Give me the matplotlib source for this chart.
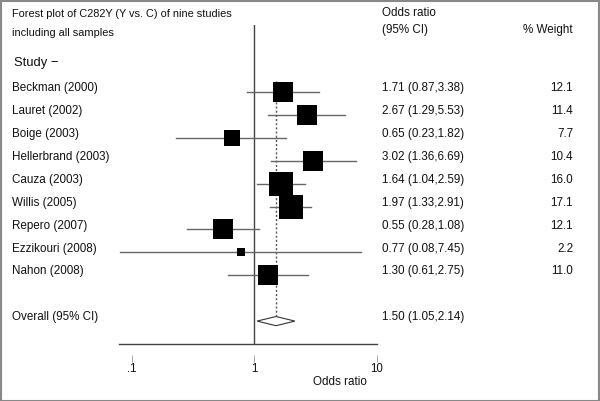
import numpy as np
import matplotlib
matplotlib.use("Agg")
import matplotlib.pyplot as plt
import matplotlib.transforms as mtransforms
from matplotlib.patches import Polygon, Rectangle

plt.rcParams['font.family'] = ['Liberation Sans', 'DejaVu Sans']

# данные
studies = ["Beckman (2000)", "Lauret (2002)", "Boige (2003)", "Hellerbrand (2003)",
           "Cauza (2003)", "Willis (2005)", "Repero (2007)", "Ezzikouri (2008)",
           "Nahon (2008)"]
odds = [1.71, 2.67, 0.65, 3.02, 1.64, 1.97, 0.55, 0.77, 1.30]
ci_low = [0.87, 1.29, 0.23, 1.36, 1.04, 1.33, 0.28, 0.08, 0.61]
ci_high = [3.38, 5.53, 1.82, 6.69, 2.59, 2.91, 1.08, 7.45, 2.75]
weights = [12.1, 11.4, 7.7, 10.4, 16.0, 17.1, 12.1, 2.2, 11.0]
overall = (1.50, 1.05, 2.14)
tick_vals = [0.1, 1, 10]
tick_labels = [".1", "1", "10"]

W, H = 600, 401
fig = plt.figure(figsize=(W / 100, H / 100), dpi=100)

# оси с логарифмической шкалой
ax = fig.add_axes([119 / W, 57 / H, 258 / W, 319 / H])
ax.set_xscale("log")
ax.set_xlim(0.0785, 10)
ax.set_ylim(12, -1.93)
for s in ["top", "right", "left", "bottom"]:
    ax.spines[s].set_visible(False)
ax.spines["bottom"].set_position(("outward", 8))
ax.set_yticks([])
ax.set_xticks(tick_vals)
ax.set_xticklabels(tick_labels)
ax.xaxis.set_minor_locator(matplotlib.ticker.NullLocator())
ax.tick_params(axis="x", direction="out", length=5, width=0.6, color="#999999",
               labelsize=8.3, pad=1, labelcolor="#111111")

# линия оси и вертикаль в 1
ax.axhline(12, color="#444444", lw=1, clip_on=False)
ax.axvline(1, color="#444444", lw=1)

rows = np.arange(1, len(studies) + 1)

# пунктир через общий эффект
ax.plot([overall[0], overall[0]], [0.5, 11 - 0.2], color="#555555", lw=1,
        linestyle=(0, (1.5, 1.5)))

# доверительные интервалы и квадраты
for i in range(len(studies)):
    ax.plot([ci_low[i], ci_high[i]], [rows[i], rows[i]], color="#666666", lw=1)
for i in range(len(studies)):
    ms = 4.32 * np.sqrt(weights[i])
    ax.plot(odds[i], rows[i], marker="s", ms=ms, color="black", mec="black", mew=0)

# ромб общего эффекта
dy = 0.2
diamond = Polygon([[overall[1], 11], [overall[0], 11 - dy], [overall[2], 11],
                   [overall[0], 11 + dy]], closed=True, facecolor="white",
                  edgecolor="#333333", lw=0.8)
ax.add_patch(diamond)

# тексты
trans = mtransforms.blended_transform_factory(fig.transFigure, ax.transData)
tc = "#111111"
fs = 8.4
off = 0.17
for i in range(len(studies)):
    fig.text(12 / W, rows[i] - off, studies[i], transform=trans, fontsize=fs,
             va="center", color=tc)
    fig.text(382 / W, rows[i] - off, "%.2f (%.2f,%.2f)" % (odds[i], ci_low[i], ci_high[i]),
             transform=trans, fontsize=fs, va="center", color=tc)
    fig.text(573 / W, rows[i] - off, "%.1f" % weights[i], transform=trans,
             fontsize=fs, va="center", ha="right", color=tc)

fig.text(12 / W, 11 - off, "Overall (95% CI)", transform=trans, fontsize=fs,
         va="center", color=tc)
fig.text(382 / W, 11 - off, "%.2f (%.2f,%.2f)" % overall, transform=trans,
         fontsize=fs, va="center", color=tc)

fig.text(12 / W, 1 - 14 / H, "Forest plot of C282Y (Y vs. C) of nine studies",
         fontsize=7.9, va="center", color=tc)
fig.text(12 / W, 1 - 33 / H, "including all samples", fontsize=7.9, va="center", color=tc)
fig.text(14 / W, 1 - 63 / H, "Study \u2212", fontsize=9.4, va="center", color=tc)
fig.text(382 / W, 1 - 13 / H, "Odds ratio", fontsize=fs, va="center", color=tc)
fig.text(382 / W, 1 - 30 / H, "(95% CI)", fontsize=fs, va="center", color=tc)
fig.text(573 / W, 1 - 30 / H, "% Weight", fontsize=fs, va="center", ha="right", color=tc)
fig.text(340 / W, 1 - 382 / H, "Odds ratio", fontsize=fs, va="center", ha="center", color=tc)

# рамка вокруг рисунка
fig.patches.append(Rectangle((0.5 / W, 0.5 / H), 1 - 1.5 / W, 1 - 1.5 / H,
                             transform=fig.transFigure, fill=False,
                             edgecolor="#888888", lw=1.5))

fig.savefig("out.png", dpi=100)
